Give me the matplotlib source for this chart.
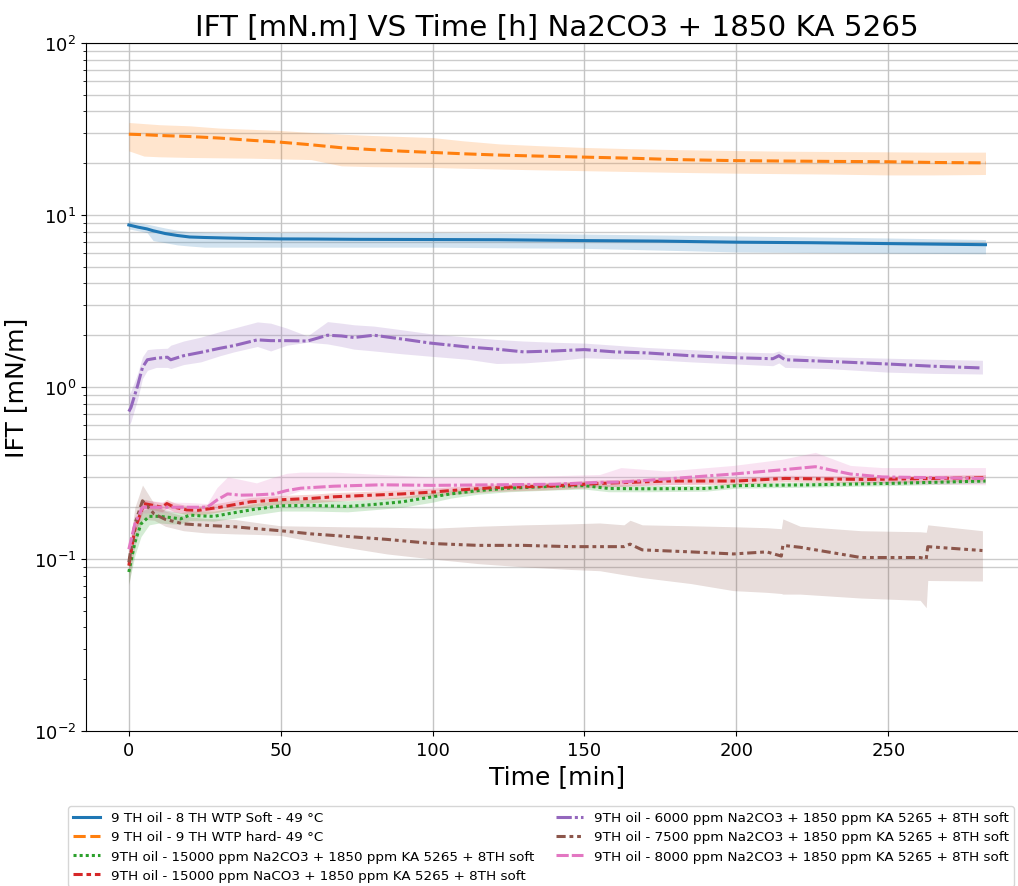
import numpy as np
import matplotlib
matplotlib.use("Agg")
import matplotlib.pyplot as plt

# ---- measurements: time [min], mean IFT and spread band [mN/m] ----
labels = [
    "9 TH oil - 8 TH WTP Soft - 49 °C",
    "9 TH oil - 9 TH WTP hard- 49 °C",
    "9TH oil - 15000 ppm Na2CO3 + 1850 ppm KA 5265 + 8TH soft",
    "9TH oil - 15000 ppm NaCO3 + 1850 ppm KA 5265 + 8TH soft",
    "9TH oil - 6000 ppm Na2CO3 + 1850 ppm KA 5265 + 8TH soft",
    "9TH oil - 7500 ppm Na2CO3 + 1850 ppm KA 5265 + 8TH soft",
    "9TH oil - 8000 ppm Na2CO3 + 1850 ppm KA 5265 + 8TH soft",
]

t_soft = [0, 3, 6, 8, 12, 16, 20, 25, 32, 40, 50, 60, 75, 100, 122, 150, 175, 200, 225, 250, 282]
m_soft = [8.75, 8.5, 8.3, 8.1, 7.8, 7.6, 7.45, 7.4, 7.35, 7.3, 7.26, 7.25, 7.22, 7.2, 7.18, 7.1, 7.05, 6.95, 6.9, 6.82, 6.72]
hi_soft = [9.25, 9.05, 8.85, 8.7, 8.4, 8.15, 8.0, 7.95, 7.9, 7.9, 7.9, 7.9, 7.9, 7.9, 7.85, 7.75, 7.65, 7.55, 7.45, 7.35, 7.2]
lo_soft = [8.3, 8.1, 7.9, 7.1, 6.9, 6.7, 6.6, 6.5, 6.5, 6.5, 6.5, 6.5, 6.5, 6.5, 6.45, 6.4, 6.25, 6.1, 6.05, 6.0, 5.95]

t_hard = [0, 5, 10, 20, 30, 40, 50, 60, 70, 80, 90, 100, 110, 122, 135, 150, 165, 180, 200, 215, 230, 250, 265, 282]
m_hard = [29.5, 29.3, 29.0, 28.6, 28.0, 27.2, 26.5, 25.6, 24.6, 24.0, 23.5, 23.1, 22.7, 22.3, 22.0, 21.7, 21.4, 21.0, 20.7, 20.6, 20.5, 20.4, 20.2, 20.1]
hi_hard = [34.5, 34.0, 33.5, 33.0, 32.0, 31.5, 31.0, 30.2, 29.5, 29.0, 28.6, 28.2, 27.0, 25.9, 25.3, 24.7, 24.3, 24.0, 23.7, 23.5, 23.4, 23.3, 23.2, 23.2]
lo_hard = [23.6, 22.0, 21.8, 21.6, 21.5, 21.4, 21.2, 21.0, 19.3, 19.1, 19.0, 18.9, 18.7, 18.5, 18.3, 18.1, 17.9, 17.7, 17.5, 17.4, 17.3, 17.1, 17.1, 17.2]

t_15k = [0, 2, 4, 6.7, 10, 14, 17, 20, 24, 28, 34, 41, 50, 60, 72, 80, 90, 100, 106, 115, 125, 140, 150, 158, 170, 190, 200, 225, 250, 282]
m_15k = [0.084, 0.125, 0.16, 0.177, 0.177, 0.174, 0.171, 0.18, 0.178, 0.177, 0.185, 0.194, 0.204, 0.205, 0.202, 0.207, 0.215, 0.23, 0.239, 0.25, 0.258, 0.265, 0.267, 0.257, 0.256, 0.257, 0.267, 0.27, 0.275, 0.284]
hi_15k = [0.1, 0.15, 0.19, 0.198, 0.196, 0.19, 0.186, 0.19, 0.19, 0.19, 0.198, 0.21, 0.22, 0.222, 0.218, 0.222, 0.23, 0.245, 0.252, 0.262, 0.27, 0.278, 0.282, 0.27, 0.268, 0.268, 0.277, 0.28, 0.284, 0.292]
lo_15k = [0.072, 0.105, 0.135, 0.158, 0.162, 0.16, 0.16, 0.167, 0.167, 0.166, 0.172, 0.18, 0.19, 0.19, 0.188, 0.193, 0.2, 0.214, 0.226, 0.238, 0.246, 0.252, 0.255, 0.246, 0.246, 0.248, 0.258, 0.262, 0.267, 0.276]

t_naco3 = [0, 2, 5, 8, 11, 12.5, 15, 19, 23, 30, 40, 50, 60, 67.5, 80, 90, 100, 106, 120, 140, 155, 177, 200, 216, 243, 282]
m_naco3 = [0.0915, 0.15, 0.21, 0.205, 0.2, 0.21, 0.2, 0.193, 0.192, 0.2, 0.215, 0.221, 0.225, 0.23, 0.235, 0.239, 0.245, 0.25, 0.26, 0.266, 0.275, 0.284, 0.284, 0.294, 0.29, 0.297]
hi_naco3 = [0.1, 0.16, 0.222, 0.217, 0.212, 0.222, 0.212, 0.205, 0.204, 0.212, 0.228, 0.234, 0.238, 0.243, 0.248, 0.252, 0.258, 0.263, 0.273, 0.279, 0.288, 0.297, 0.297, 0.307, 0.303, 0.31]
lo_naco3 = [0.083, 0.14, 0.198, 0.193, 0.188, 0.198, 0.188, 0.181, 0.18, 0.188, 0.202, 0.208, 0.212, 0.217, 0.222, 0.226, 0.232, 0.237, 0.247, 0.253, 0.262, 0.271, 0.271, 0.281, 0.277, 0.284]

t_6000 = [0, 0.7, 2.9, 4.5, 6.1, 9, 12.7, 13.8, 18, 23.7, 30, 34.6, 42.3, 46.7, 52, 58.8, 65.4, 70, 74.1, 80.7, 90, 99.3, 111.4, 121, 130, 140, 150, 160, 170, 185, 200, 212, 214, 216, 230, 250, 265, 281]
m_6000 = [0.72, 0.76, 1.02, 1.30, 1.44, 1.47, 1.49, 1.44, 1.52, 1.59, 1.68, 1.74, 1.88, 1.86, 1.86, 1.85, 2.0, 1.98, 1.94, 2.0, 1.9, 1.80, 1.71, 1.66, 1.6, 1.62, 1.65, 1.6, 1.58, 1.52, 1.48, 1.46, 1.52, 1.44, 1.41, 1.36, 1.32, 1.29]
hi_6000 = [0.9, 0.95, 1.2, 1.5, 1.65, 1.67, 1.68, 1.75, 1.85, 1.95, 2.1, 2.2, 2.39, 2.35, 2.2, 1.98, 2.4, 2.35, 2.3, 2.26, 2.15, 2.04, 1.95, 1.89, 1.85, 1.82, 1.8, 1.75, 1.7, 1.65, 1.6, 1.58, 1.62, 1.55, 1.5, 1.47, 1.45, 1.43]
lo_6000 = [0.6, 0.63, 0.85, 1.12, 1.25, 1.3, 1.3, 1.28, 1.35, 1.4, 1.52, 1.6, 1.72, 1.62, 1.75, 1.82, 1.78, 1.72, 1.66, 1.62, 1.56, 1.51, 1.45, 1.37, 1.38, 1.42, 1.48, 1.46, 1.45, 1.4, 1.36, 1.33, 1.38, 1.3, 1.28, 1.22, 1.2, 1.19]

t_7500 = [0, 2, 4.5, 8.3, 12, 18, 25, 34.7, 42, 50, 60, 70, 85, 100, 115, 130, 145, 155, 163, 165, 169, 185, 199, 210, 214.8, 215.3, 221, 241, 260.5, 262.5, 263, 281]
m_7500 = [0.0957, 0.16, 0.218, 0.183, 0.17, 0.16, 0.157, 0.154, 0.15, 0.146, 0.14, 0.136, 0.13, 0.123, 0.12, 0.12, 0.118, 0.118, 0.118, 0.122, 0.113, 0.11, 0.107, 0.11, 0.104, 0.12, 0.117, 0.102, 0.102, 0.1, 0.118, 0.112]
hi_7500 = [0.11, 0.2, 0.269, 0.21, 0.19, 0.178, 0.172, 0.17, 0.163, 0.156, 0.155, 0.154, 0.153, 0.151, 0.155, 0.158, 0.16, 0.162, 0.158, 0.168, 0.158, 0.156, 0.154, 0.152, 0.15, 0.171, 0.155, 0.146, 0.144, 0.143, 0.158, 0.146]
lo_7500 = [0.0703, 0.12, 0.17, 0.168, 0.155, 0.146, 0.142, 0.14, 0.139, 0.137, 0.127, 0.118, 0.107, 0.1, 0.094, 0.09, 0.087, 0.0855, 0.081, 0.08, 0.078, 0.072, 0.0655, 0.064, 0.063, 0.0625, 0.0625, 0.0593, 0.0575, 0.0521, 0.075, 0.0745]

t_8000 = [0, 2, 4.5, 11, 20, 25.8, 29, 32.5, 36.8, 42, 47.8, 52, 56.6, 67.5, 83, 100, 120, 140, 155, 162, 177, 199, 215, 226, 237.5, 248, 265, 282]
m_8000 = [0.114, 0.16, 0.2, 0.2, 0.2, 0.2, 0.22, 0.239, 0.235, 0.236, 0.239, 0.25, 0.258, 0.265, 0.27, 0.268, 0.27, 0.272, 0.279, 0.28, 0.292, 0.312, 0.33, 0.344, 0.312, 0.30, 0.297, 0.294]
hi_8000 = [0.125, 0.18, 0.22, 0.215, 0.213, 0.21, 0.26, 0.30, 0.29, 0.277, 0.30, 0.315, 0.32, 0.32, 0.31, 0.30, 0.3, 0.305, 0.31, 0.34, 0.325, 0.35, 0.38, 0.417, 0.35, 0.34, 0.34, 0.34]
lo_8000 = [0.1, 0.145, 0.185, 0.186, 0.186, 0.19, 0.195, 0.203, 0.205, 0.215, 0.22, 0.235, 0.25, 0.25, 0.25, 0.25, 0.255, 0.26, 0.265, 0.265, 0.27, 0.28, 0.29, 0.3, 0.285, 0.275, 0.272, 0.27]

series = [
    (t_soft, m_soft, lo_soft, hi_soft),
    (t_hard, m_hard, lo_hard, hi_hard),
    (t_15k, m_15k, lo_15k, hi_15k),
    (t_naco3, m_naco3, lo_naco3, hi_naco3),
    (t_6000, m_6000, lo_6000, hi_6000),
    (t_7500, m_7500, lo_7500, hi_7500),
    (t_8000, m_8000, lo_8000, hi_8000),
]

colors = ["#1f77b4", "#ff7f0e", "#2ca02c", "#d62728", "#9467bd", "#8c564b", "#e377c2"]
dash_styles = [
    None,
    (4, 1.5),
    (1, 1),
    (3, 1.25, 1.5, 1.25),
    (5, 1, 1, 1),
    (3, 1.25, 1.25, 1.25, 1.25, 1.25),
    (4, 1, 4, 1, 1, 1),
]

W, H = 1018, 887
fig = plt.figure(figsize=(W / 100, H / 100), dpi=100)
# axes run slightly past the right edge of the canvas
ax = fig.add_axes([86 / W, 1 - 732 / H, (1028 - 86) / W, (732 - 44) / H])

# horizontal guide lines at the log ticks of the upper decades
grid_levels = [0.09] + [m * 10.0 ** e for e in range(-1, 2) for m in range(1, 10)] + [100]
for g in grid_levels:
    ax.axhline(g, color="#cccccc", lw=1.0, zorder=0)

handles = []
for (t, m, lo, hi), c, d, lab in zip(series, colors, dash_styles, labels):
    ax.fill_between(t, lo, hi, color=c, alpha=0.2, lw=0, zorder=1)
    (ln,) = ax.plot(t, m, color=c, lw=2.2, label=lab, zorder=2)
    if d is not None:
        ln.set_dashes(d)
    handles.append(ln)

ax.set_yscale("log")
ax.set_ylim(0.01, 100)
ax.set_xlim(-14.1, 296)
ax.set_xticks([0, 50, 100, 150, 200, 250])
ax.xaxis.grid(True, color="#c4c4c4", lw=1.0)
ax.set_axisbelow(True)
ax.tick_params(axis="both", which="major", labelsize=13)

ax.set_title("IFT [mN.m] VS Time [h] Na2CO3 + 1850 KA 5265", fontsize=21.2)
ax.set_xlabel("Time [min]", fontsize=18)
ax.set_ylabel("IFT [mN/m]", fontsize=18)

fig.legend(handles=handles, labels=labels, ncol=2, fontsize=9.7,
           loc="upper left", bbox_to_anchor=(68 / W, 1 - 807 / H),
           borderaxespad=0, columnspacing=1.6, labelspacing=0.45)

fig.savefig("out.png", dpi=100)
